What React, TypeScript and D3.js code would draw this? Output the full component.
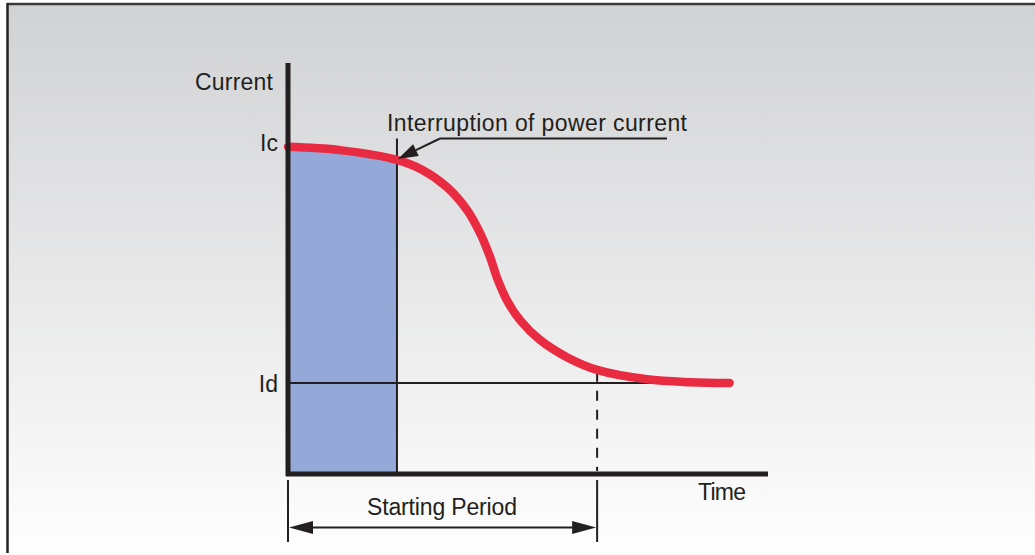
import React from "react";
import * as d3 from "d3";

// curve of current vs time, in axis units (time 0..100, current 0..100)
const curveTime = [0, 10.8, 22.7, 28.1, 33.1, 37.3, 40, 42.1, 43.5, 45.6, 48.3, 52.5, 58.1, 64.4, 74.8, 83.75, 92];
const curveCurrent = [79.8, 79.0, 76.6, 74.1, 70.0, 64.4, 58.8, 52.9, 48.0, 42.4, 37.6, 32.7, 28.5, 25.4, 23.1, 22.4, 22.2];

const levelId = 22.2;
const tInterrupt = 22.7;
const tStartEnd = 64.4;
const tIdLineEnd = 85;

const labels = {
  yTitle: "Current",
  xTitle: "Time",
  ic: "Ic",
  id: "Id",
  note: "Interruption of power current",
  period: "Starting Period",
};

const W = 1035;
const H = 555;
const font = "'Liberation Sans', Arial, sans-serif";

export default function App() {
  const x = d3.scaleLinear().domain([0, 100]).range([288, 768]);
  const y = d3.scaleLinear().domain([0, 100]).range([474, 64]);

  const pts = curveTime.map((t, i) => [t, curveCurrent[i]] as [number, number]);
  const line = d3
    .line<[number, number]>()
    .x((d) => x(d[0]))
    .y((d) => y(d[1]))
    .curve(d3.curveCatmullRom.alpha(0.5));

  const area = d3
    .area<[number, number]>()
    .x((d) => x(d[0]))
    .y0(y(0))
    .y1((d) => y(d[1]))
    .curve(d3.curveCatmullRom.alpha(0.5));

  // blue area = the part of the curve before interruption
  const fillPts = pts.filter((d) => d[0] <= tInterrupt);

  const leaderY = 138.5;
  const leaderX = 440;
  const tipX = x(tInterrupt) + 1;
  const tipY = y(curveCurrent[2]) - 1;
  const ang = Math.atan2(tipY - leaderY, tipX - leaderX);
  const aL = 20;
  const aW = 6.5;
  const bx = tipX - aL * Math.cos(ang);
  const by = tipY - aL * Math.sin(ang);
  const nx = -Math.sin(ang) * aW;
  const ny = Math.cos(ang) * aW;

  const arrowY = 527.5;
  const x0 = x(0);
  const x1 = x(tStartEnd);

  return (
    <svg width={W} height={H} style={{ position: "absolute", left: 0, top: 0 }}>
      <defs>
        <linearGradient id="bg" x1="0" y1="0" x2="0" y2="1">
          <stop offset="0" stopColor="#d1d2d4" />
          <stop offset="1" stopColor="#fefefe" />
        </linearGradient>
      </defs>
      <rect x={0} y={0} width={W} height={H} fill="#fff" />
      <rect x={8} y={5} width={W - 8} height={H - 5} fill="url(#bg)" />
      <line x1={7} x2={W} y1={4} y2={4} stroke="#3a3a3a" strokeWidth={2.5} />
      <line x1={7.5} x2={7.5} y1={3} y2={553} stroke="#222" strokeWidth={2.5} />

      {/* filled starting zone */}
      <path d={area(fillPts) || ""} fill="#94a9d7" />

      {/* Id level */}
      <line x1={x0} x2={x(tIdLineEnd)} y1={y(levelId)} y2={y(levelId)} stroke="#231f20" strokeWidth={2} />

      {/* interruption vertical */}
      <line x1={x(tInterrupt)} x2={x(tInterrupt)} y1={leaderY} y2={y(0)} stroke="#231f20" strokeWidth={2} />

      {/* dashed end of starting period */}
      <line x1={x1} x2={x1} y1={y(curveCurrent[13]) + 2} y2={y(0) - 3} stroke="#231f20" strokeWidth={2} strokeDasharray="10,9" />

      {/* curve */}
      <path d={line(pts) || ""} fill="none" stroke="#e92b42" strokeWidth={8.5} strokeLinecap="round" />

      {/* axes */}
      <line x1={x0} x2={x0} y1={63} y2={y(0) + 2} stroke="#231f20" strokeWidth={5} />
      <line x1={x0 - 2} x2={x(100)} y1={y(0)} y2={y(0)} stroke="#231f20" strokeWidth={5} />

      {/* leader */}
      <line x1={667} x2={leaderX} y1={leaderY} y2={leaderY} stroke="#231f20" strokeWidth={2} />
      <line x1={leaderX} y1={leaderY} x2={bx} y2={by} stroke="#231f20" strokeWidth={2} />
      <path d={`M${tipX},${tipY}L${bx + nx},${by + ny}L${bx - nx},${by - ny}Z`} fill="#231f20" />

      {/* starting period dimension */}
      <line x1={x0} x2={x0} y1={480} y2={542} stroke="#231f20" strokeWidth={2} />
      <line x1={x1} x2={x1} y1={480} y2={542} stroke="#231f20" strokeWidth={2} />
      <line x1={x0 + 20} x2={x1 - 20} y1={arrowY} y2={arrowY} stroke="#231f20" strokeWidth={2} />
      <path d={`M${x0 + 1},${arrowY}L${x0 + 25},${arrowY - 6.5}L${x0 + 25},${arrowY + 6.5}Z`} fill="#231f20" />
      <path d={`M${x1 - 1},${arrowY}L${x1 - 25},${arrowY - 6.5}L${x1 - 25},${arrowY + 6.5}Z`} fill="#231f20" />

      {/* text */}
      <g fontFamily={font} fontSize={23} fill="#231f20">
        <text x={273} y={90} textAnchor="end" textLength={78}>{labels.yTitle}</text>
        <text x={278} y={151} textAnchor="end">{labels.ic}</text>
        <text x={278} y={392} textAnchor="end">{labels.id}</text>
        <text x={387} y={131} textLength={300}>{labels.note}</text>
        <text x={698} y={500} textLength={48}>{labels.xTitle}</text>
        <text x={367} y={515} textLength={150}>{labels.period}</text>
      </g>
    </svg>
  );
}
